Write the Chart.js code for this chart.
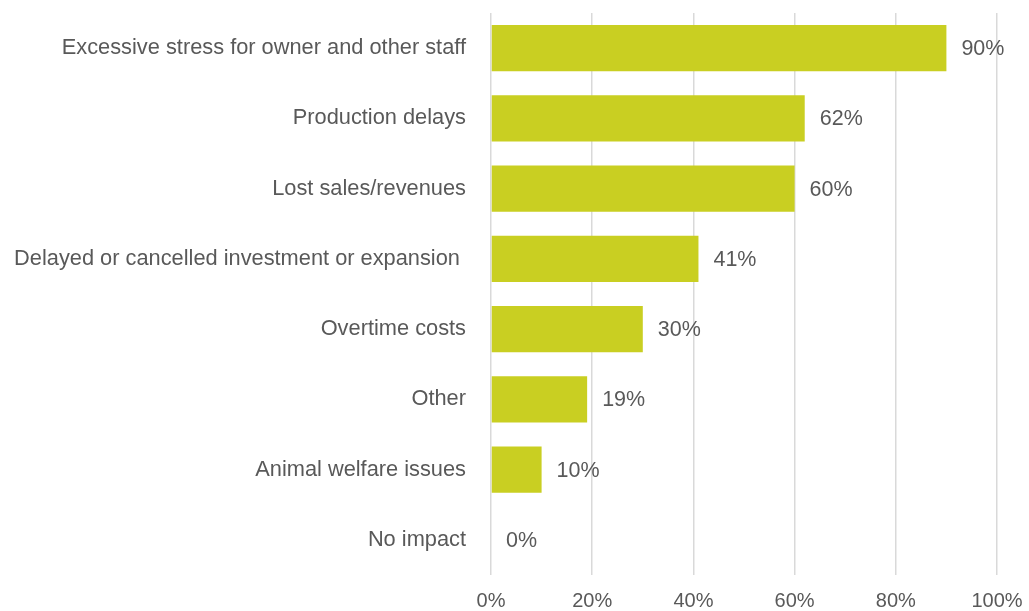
<!DOCTYPE html>
<html>
<head>
<meta charset="utf-8">
<script src="https://cdn.jsdelivr.net/npm/chart.js@4.4.1/dist/chart.umd.min.js"></script>
<style>
  html, body { margin: 0; padding: 0; background: #fff; }
  #wrap { width: 1029px; height: 611px; }
</style>
</head>
<body>
<div id="wrap"><canvas id="chart"></canvas></div>
<script>
const categories = [
    'Excessive stress for owner and other staff',
    'Production delays',
    'Lost sales/revenues',
    'Delayed or cancelled investment or expansion ',
    'Overtime costs',
    'Other',
    'Animal welfare issues',
    'No impact',
];
const impactValues = [90, 62, 60, 41, 30, 19, 10, 0];
const xTicks = [0, 20, 40, 60, 80, 100];

const TEXT = '#595959';
const FAMILY = '"Liberation Sans", Arial, sans-serif';
const LABEL_FONT = { family: FAMILY, size: 21.8 };
const TICK_FONT = { family: FAMILY, size: 20 };
const VALUE_SIZE = 21.5;

// value labels to the right of each bar
const valueLabels = {
    id: 'valueLabels',
    afterDatasetsDraw(chart) {
        const ctx = chart.ctx;
        const meta = chart.getDatasetMeta(0);
        ctx.save();
        ctx.font = `${VALUE_SIZE}px ${FAMILY}`;
        ctx.fillStyle = TEXT;
        ctx.textAlign = 'left';
        ctx.textBaseline = 'middle';
        meta.data.forEach((bar, i) => {
            ctx.fillText(impactValues[i] + '%', bar.x + 15, bar.y + 1);
        });
        ctx.restore();
    },
};

new Chart(document.getElementById('chart').getContext('2d'), {
    type: 'bar',
    data: {
        labels: categories,
        datasets: [{
            data: impactValues,
            backgroundColor: '#C9CF22',
            borderWidth: 0,
            barPercentage: 0.655,
            categoryPercentage: 1,
        }],
    },
    options: {
        indexAxis: 'y',
        responsive: true,
        maintainAspectRatio: false,
        animation: false,
        layout: { padding: { top: 13, right: 32, left: 0, bottom: 0 } },
        scales: {
            x: {
                min: 0,
                max: 100,
                afterBuildTicks: (scale) => { scale.ticks = xTicks.map((v) => ({ value: v })); },
                afterFit: (scale) => {
                    scale.height = 36;
                    scale.paddingLeft = 0;
                    scale.paddingRight = 0;
                },
                ticks: {
                    color: TEXT,
                    font: TICK_FONT,
                    padding: 14,
                    maxRotation: 0,
                    callback: (v) => v + '%',
                },
                grid: { color: '#D9D9D9', lineWidth: 1.5, drawTicks: false },
                border: { display: false },
            },
            y: {
                afterFit: (scale) => {
                    scale.width = 491;
                    scale.paddingTop = 0;
                    scale.paddingBottom = 0;
                },
                ticks: { color: TEXT, font: LABEL_FONT, padding: 25 },
                grid: { display: false, drawTicks: false },
                border: { display: false },
            },
        },
        plugins: {
            legend: { display: false },
            tooltip: { enabled: false },
        },
    },
    plugins: [valueLabels],
});
</script>
</body>
</html>
